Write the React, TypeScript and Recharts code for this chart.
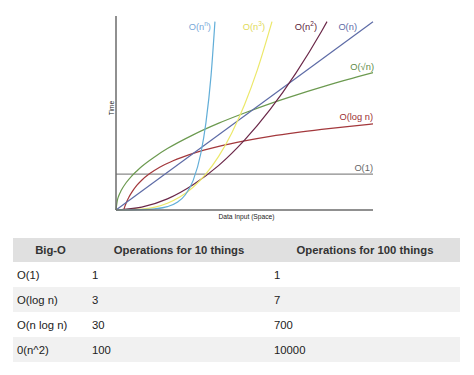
import { LineChart, Line, XAxis, YAxis, LabelList } from 'recharts';

// curve samples (x: data input 0-100, y: time 0-100)
const constX = [0, 100];
const constY = [19, 19];
const logX = [3, 3.5, 4, 5, 6, 8, 10, 13, 17, 22, 30, 40, 50, 60, 70, 80, 90, 100];
const logY = [0, 2.1, 3.9, 6.8, 9.1, 12.9, 15.8, 19.2, 22.7, 26, 30.1, 33.8, 36.7, 39.1, 41.1, 42.8, 44.3, 45.7];
const sqrtX = [0, 0.5, 1, 2, 4, 6, 8, 10, 15, 20, 30, 40, 50, 60, 70, 80, 90, 100];
const sqrtY = [0, 5, 7.3, 10.3, 14.6, 17.9, 20.6, 23.1, 28.2, 32.6, 39.9, 46.1, 51.5, 56.5, 61, 65.2, 69.2, 72.9];
const linX = [0, 100];
const linY = [0, 100];
const quadX = [0, 10, 20, 30, 40, 50, 60, 70, 80, 82.1];
const quadY = [0, 1.5, 5.9, 13.4, 23.7, 37.1, 53.4, 72.7, 94.9, 100];
const cubeX = [0, 10, 20, 25, 30, 35, 40, 45, 50, 55, 60.7];
const cubeY = [0, 0.5, 3.6, 7, 12.1, 19.2, 28.6, 40.8, 55.9, 74.4, 100];
const expX = [0, 10, 15, 20, 24, 27, 30, 33, 35, 37, 38.5];
const expY = [0, 0.2, 0.6, 1.8, 4.2, 8.1, 15.6, 30, 46.4, 71.6, 100];

// table
const bigO = ['O(1)', 'O(log n)', 'O(n log n)', '0(n^2)'];
const ops10 = ['1', '3', '30', '100'];
const ops100 = ['1', '7', '700', '10000'];

const FONT = '"Liberation Sans", Arial, sans-serif';

function zip(xs: number[], ys: number[]) {
  return xs.map((x, i) => ({ x, y: ys[i] }));
}

function endLabel(text: any, color: string, dx: number, dy: number, n: number) {
  return (props: any) => {
    if (props.index !== n - 1) return null;
    const x = props.viewBox?.x ?? props.x;
    const y = props.viewBox?.y ?? props.y;
    return (
      <text x={x + dx} y={y + dy} textAnchor="end" fill={color} fontSize={9.3} fontFamily={FONT}>
        {text}
      </text>
    );
  };
}

const sup = (base: string, s: string) => (
  <>
    {base}
    <tspan dy={-4} fontSize={6.5}>{s}</tspan>
    <tspan dy={4}>)</tspan>
  </>
);

export default function App() {
  const series = [
    { key: 'c', data: zip(constX, constY), stroke: '#8a8a8a', label: endLabel('O(1)', '#666', 0, -3, constX.length) },
    { key: 'log', data: zip(logX, logY), stroke: '#a3383c', label: endLabel('O(log n)', '#9b2f33', 0, -4, logX.length) },
    { key: 'sqrt', data: zip(sqrtX, sqrtY), stroke: '#6c9a50', label: endLabel('O(√n)', '#5e8a48', 1, -3, sqrtX.length) },
    { key: 'lin', data: zip(linX, linY), stroke: '#5d6ba6', label: endLabel('O(n)', '#5d6ba6', -16, 8, linX.length) },
    { key: 'quad', data: zip(quadX, quadY), stroke: '#6b2849', label: endLabel(sup('O(n', '2'), '#5a2238', -10, 8, quadX.length) },
    { key: 'cube', data: zip(cubeX, cubeY), stroke: '#ece86a', label: endLabel(sup('O(n', '3'), '#e0da5a', -7, 8, cubeX.length) },
    { key: 'exp', data: zip(expX, expY), stroke: '#62aed8', label: endLabel(sup('O(n', 'n'), '#78a8d8', -4, 8, expX.length) },
  ];

  const axisStroke = { stroke: '#6b6b6b', strokeWidth: 1.5 };

  const cell = { padding: '0 4px', height: 25, textAlign: 'left' as const, color: '#222' };
  const head = { padding: 0, height: 24, textAlign: 'center' as const, fontWeight: 'bold' as const, color: '#333' };

  return (
    <div style={{ position: 'absolute', left: 0, top: 0, width: 474, height: 375, background: '#fff', fontFamily: FONT }}>
      <LineChart width={474} height={225} margin={{ top: 16, right: 101, bottom: 14, left: 115 }}>
        <XAxis
          type="number"
          dataKey="x"
          domain={[0, 100]}
          height={1}
          tick={false}
          tickLine={false}
          axisLine={axisStroke}
          label={(p: any) => {
            const vb = p.viewBox || {};
            return (
              <text x={vb.x + vb.width / 2 + 2} y={vb.y + 9} textAnchor="middle" fontSize={6.7} fill="#222" fontFamily={FONT}>
                Data Input (Space)
              </text>
            );
          }}
        />
        <YAxis
          type="number"
          domain={[0, 103]}
          width={1}
          tick={false}
          tickLine={false}
          axisLine={axisStroke}
          label={(p: any) => {
            const x = 114;
            const y = 108;
            return (
              <text x={x} y={y} transform={`rotate(-90 ${x} ${y})`} textAnchor="middle" fontSize={6.7} fill="#222" fontFamily={FONT}>
                Time
              </text>
            );
          }}
        />
        {series.map((s) => (
          <Line
            key={s.key}
            data={s.data}
            dataKey="y"
            type="monotone"
            stroke={s.stroke}
            strokeWidth={1.2}
            dot={false}
            activeDot={false}
            isAnimationActive={false}
          >
            <LabelList dataKey="y" content={s.label} />
          </Line>
        ))}
      </LineChart>

      <table
        style={{
          position: 'absolute',
          left: 13,
          top: 238,
          width: 447,
          borderCollapse: 'collapse',
          fontSize: 11.3,
          fontFamily: FONT,
          tableLayout: 'fixed',
        }}
      >
        <colgroup>
          <col style={{ width: 75 }} />
          <col style={{ width: 182 }} />
          <col style={{ width: 190 }} />
        </colgroup>
        <thead>
          <tr style={{ background: '#e0e0e0' }}>
            <th style={head}>Big-O</th>
            <th style={head}>Operations for 10 things</th>
            <th style={head}>Operations for 100 things</th>
          </tr>
        </thead>
        <tbody>
          {bigO.map((b, i) => (
            <tr key={b} style={{ background: i % 2 === 1 ? '#f1f1f1' : '#fff' }}>
              <td style={cell}>{b}</td>
              <td style={cell}>{ops10[i]}</td>
              <td style={cell}>{ops100[i]}</td>
            </tr>
          ))}
        </tbody>
      </table>
    </div>
  );
}
